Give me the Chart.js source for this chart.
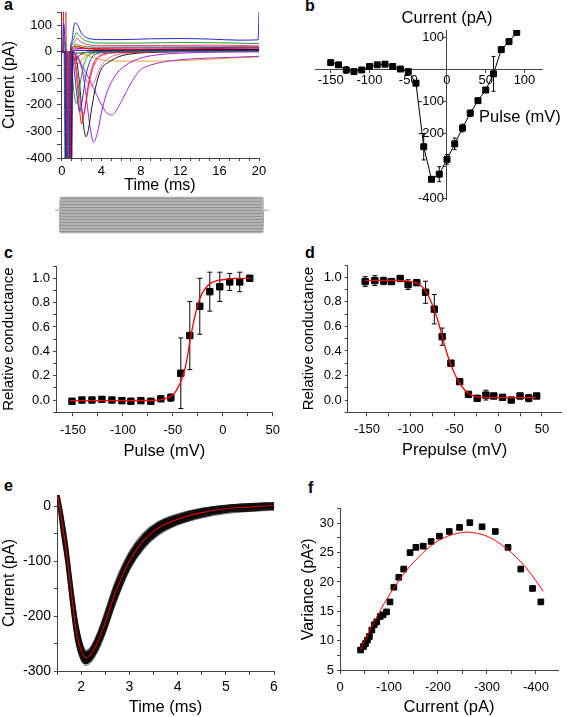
<!DOCTYPE html>
<html>
<head>
<meta charset="utf-8" />
<script src="https://cdn.jsdelivr.net/npm/chart.js"></script>
<style>
    body {
        margin: 0;
        width: 567px;
        height: 717px;
        position: relative;
        overflow: hidden;
        background: white;
        font-family: "Liberation Sans", Arial, sans-serif;
    }
    canvas { position: absolute; }
    .letter {
        position: absolute;
        font-weight: bold;
        font-size: 16px;
        line-height: 16px;
    }
</style>
</head>
<body>
<div class="letter" style="left:4px;top:-3px">a</div>
<div class="letter" style="left:305px;top:-2px">b</div>
<div class="letter" style="left:4px;top:245px">c</div>
<div class="letter" style="left:305px;top:245px">d</div>
<div class="letter" style="left:4px;top:478px">e</div>
<div class="letter" style="left:308px;top:480px">f</div>

<canvas id="chartA" width="280" height="195" style="left:0;top:0"></canvas>
<canvas id="chartStim" width="225" height="48" style="left:50px;top:192px"></canvas>
<canvas id="chartB" width="282" height="215" style="left:285px;top:0"></canvas>
<canvas id="chartC" width="280" height="221" style="left:0;top:240px"></canvas>
<canvas id="chartD" width="267" height="220" style="left:300px;top:240px"></canvas>
<canvas id="chartE" width="280" height="247" style="left:0;top:470px"></canvas>
<canvas id="chartF" width="268" height="247" style="left:299px;top:470px"></canvas>

<script>
// ---- a: current traces, [time (ms), current (pA)]
const aBlueUp = [[-0.1,0],[0.05,0],[0.15,108],[0.3,20],[0.45,-600],[0.7,-600],[0.85,0],[1.0,40],[1.2,95],[1.35,110],[1.6,100],[1.9,75],[2.3,58],[3,48],[4,46],[6,46],[9,49],[12,50],[15,48],[18,44],[19.9,45],[20,150]];
const aGreenUp = [[-0.1,0],[0.1,0],[0.25,40],[0.4,0],[0.55,-600],[0.8,-600],[0.95,0],[1.15,45],[1.45,72],[1.75,62],[2.1,48],[2.8,37],[4,33],[8,33],[12,35],[16,34],[20,31]];
const aPinkUp = [[-0.1,0],[0.3,0],[0.45,-600],[0.7,-600],[0.85,0],[1.15,32],[1.5,50],[1.9,38],[2.6,27],[4,23],[10,24],[16,25],[20,22]];
const aRedSpike = [[-0.1,0],[0.12,0],[0.2,600],[0.3,600],[0.42,0],[0.55,-600],[0.8,-600],[0.95,5],[1.3,22],[1.8,17],[3,12],[8,10],[14,12],[20,14]];
const aBrownUp = [[-0.1,0],[0.6,0],[0.7,-600],[0.85,-600],[1.0,0],[1.3,16],[1.7,19],[2.5,12],[5,8],[12,8],[20,10]];
const aGreen2 = [[-0.1,0],[0.9,0],[1.3,28],[2,22],[4,18],[12,19],[20,20]];
const aNavy = [[-0.1,0],[0.3,0],[0.4,-600],[0.95,-600],[1.05,0],[1.4,6],[3,5],[10,7],[20,9]];
const aMagenta = [[-0.1,0],[0.7,0],[0.8,-600],[0.95,-600],[1.05,0],[1.5,12],[3,14],[10,15],[20,17]];
const aTeal = [[-0.1,0],[0.2,0],[0.35,-600],[0.6,-600],[0.75,0],[1.2,-6],[2,-3],[5,0],[20,1]];
const aDarkRed = [[-0.1,0],[0.4,0],[0.5,-600],[0.7,-600],[0.8,0],[1.3,-30],[1.8,-12],[3,0],[20,3]];
const aOrange = [[-0.1,0],[1.0,0],[1.6,-3],[2.5,-12],[3.5,-25],[4.5,-33],[6,-35],[9,-35],[12,-33],[15,-28],[18,-22],[20,-19]];
const aOlive = [[-0.1,0],[0.5,0],[0.65,-600],[0.85,-600],[0.95,-15],[1.2,-35],[1.6,-45],[2.0,-30],[2.6,-10],[3.5,-2],[6,2],[20,4]];
const aGreenDown = [[-0.1,0],[0.45,0],[0.55,-600],[0.85,-600],[1.0,-70],[1.2,-150],[1.45,-195],[1.7,-155],[2.0,-85],[2.4,-30],[3,-8],[4.5,0],[20,3]];
const aBlueDown = [[-0.1,0],[0.5,0],[0.6,-600],[0.9,-600],[1.05,-25],[1.3,-90],[1.55,-175],[1.8,-226],[2.05,-185],[2.4,-95],[2.9,-30],[3.5,-8],[5,0],[20,5]];
const aRedDown = [[-0.1,0],[0.55,0],[0.65,-600],[0.85,-600],[1.0,-5],[1.3,-40],[1.6,-140],[1.8,-225],[2.0,-272],[2.25,-235],[2.6,-140],[3.1,-55],[3.8,-15],[5,-4],[20,2]];
const aPinkDown = [[-0.1,0],[1.0,0],[1.2,-15],[1.5,-70],[1.8,-170],[2.1,-240],[2.4,-200],[2.8,-110],[3.4,-40],[4.2,-12],[6,-2],[20,3]];
const aPinkSlow = [[-0.1,0],[1.0,0],[1.5,-20],[2.0,-60],[2.5,-110],[2.9,-130],[3.3,-112],[3.8,-65],[4.5,-30],[5.5,-12],[8,-3],[20,2]];
const aBlack = [[-0.1,0],[0.6,0],[0.7,-600],[0.9,-600],[1.05,0],[1.4,-20],[1.7,-90],[2.0,-210],[2.25,-295],[2.45,-320],[2.7,-290],[3.0,-215],[3.5,-120],[4.0,-65],[4.8,-38],[5.8,-18],[7,-8],[10,-1],[20,4]];
const aViolet = [[-0.1,0],[1.0,0],[1.5,-10],[2.0,-60],[2.4,-150],[2.8,-270],[3.2,-340],[3.6,-305],[4.0,-230],[4.5,-160],[5.0,-115],[5.6,-80],[6.5,-50],[7.5,-30],[9,-15],[12,-5],[20,0]];
const aVioletSlow = [[-0.1,0],[1.0,0],[1.5,-20],[2.1,-56],[2.8,-105],[3.5,-160],[4.2,-212],[4.7,-235],[5.1,-238],[5.6,-215],[6.2,-175],[6.9,-125],[7.9,-70],[9,-50],[10.5,-37],[12,-30],[14,-25],[17,-21],[20,-17]];

// ---- a (lower): voltage protocol, mV
const stimLevels = [90,80,70,60,50,40,30,20,10,0,-10,-20,-30,-40,-50,-60,-70,-80,-90,-100,-110,-120,-130,-140,-150];
const stimHold = 0;
const stimTimes = [-0.5, 0, 20, 20.5];

// ---- b: I-V relation
const bPulse = [-150,-140,-130,-120,-110,-100,-90,-80,-70,-60,-50,-40,-30,-20,-10,0,10,20,30,40,50,60,70,80,90];
const bCurrent = [21,14,-2,-7,-2,9,14,16,9,1,-7,-43,-240,-341,-325,-279,-231,-182,-136,-97,-64,-14,61,86,115];
const bError = [0,0,10,0,6,8,0,0,0,0,0,0,41,0,23,15,18,12,10,0,0,54,8,5,10];
const bCurrentTickLabels = [100,-100,-200,-400];

// ---- c: activation
const cPulse = [-151,-141,-131,-121,-111,-101,-92,-82,-72,-62,-52,-42,-33,-23,-13,-3,7,17,27];
const cConductance = [-0.01,0.0,0.0,0.005,0.0,-0.005,-0.01,-0.005,-0.01,0.01,0.02,0.22,0.53,0.77,0.89,0.93,0.97,0.97,1.0];
const cError = [0,0,0,0,0,0,0,0,0,0,0.03,0.29,0.28,0.23,0.16,0.12,0.07,0.08,0];
const cFitX = [-153,-100,-75,-65,-58,-52,-48,-45,-42,-39,-36,-33,-30,-27,-24,-21,-17,-12,-6,2,12,27];
const cFitY = [-0.005,-0.005,-0.004,0.0,0.01,0.03,0.06,0.1,0.15,0.22,0.33,0.48,0.61,0.72,0.81,0.87,0.92,0.96,0.98,0.99,1.0,1.0];

// ---- d: inactivation
const dPrepulse = [-152,-141,-131,-122,-112,-103,-93,-83,-73,-64,-54,-44,-34,-24,-14,-5,5,15,25,35,44];
const dConductance = [0.965,0.973,0.97,0.965,0.99,0.94,0.956,0.878,0.74,0.516,0.3,0.15,0.046,0.014,0.04,0.033,0.022,0.0,0.033,0.016,0.033];
const dError = [0.04,0.04,0.03,0.015,0,0.04,0.02,0.09,0.12,0.07,0,0,0.01,0,0.04,0,0,0,0,0.03,0];
const dFitX = [-152,-120,-105,-97,-91,-84,-76,-68,-61,-54,-46,-38,-31,-20,-5,44];
const dFitY = [0.975,0.975,0.97,0.96,0.945,0.9,0.79,0.625,0.44,0.285,0.16,0.08,0.042,0.022,0.02,0.02];

// ---- e: repeated sweeps (band) and mean
const eTime = [1.52,1.6,1.7,1.8,1.9,2.0,2.1,2.2,2.35,2.5,2.7,3.0,3.3,3.6,4.0,4.5,5.0,5.5,6.0];
const eMean = [18,-28,-86,-160,-228,-262,-276,-270,-246,-212,-160,-100,-62,-40,-24,-12,-5,-2,1];
const eUpper = [25,-12,-68,-140,-205,-248,-266,-260,-234,-198,-146,-88,-52,-31,-17,-6,0,3,5];
const eLower = [12,-45,-105,-180,-245,-276,-286,-280,-258,-226,-175,-113,-74,-50,-32,-19,-11,-8,-5];
const eFringeHi = [27,-8,-62,-132,-198,-243,-262,-255,-228,-190,-138,-82,-47,-28,-14,-4,1,4,6];
const eFringeLo = [8,-52,-112,-188,-250,-280,-290,-285,-264,-233,-182,-118,-79,-54,-35,-22,-14,-10,-8];

// ---- f: non-stationary noise analysis
const fCurrent = [-42,-48,-52,-56,-60,-65,-70,-75,-82,-88,-95,-102,-110,-120,-130,-143,-155,-170,-186,-203,-223,-244,-265,-290,-317,-343,-369,-393,-410];
const fVariance = [8.4,9.0,9.5,10.1,10.7,11.8,12.7,13.2,14.1,14.4,14.9,16.6,19.1,20.8,22.2,25.0,25.9,26.1,26.9,27.8,28.6,29.3,30.1,29.4,28.6,25.9,22.2,18.9,16.6];
const fFitX = [-42,-60,-80,-100,-120,-140,-160,-180,-200,-220,-240,-260,-280,-300,-320,-340,-360,-380,-400,-415];
const fFitY = [8.5,11.6,14.8,17.7,20.2,22.4,24.2,25.8,27.0,27.8,28.3,28.5,28.3,27.8,26.9,25.7,24.2,22.4,20.2,18.4];

const FONT = '"Liberation Sans", Arial, sans-serif';
const AXIS = '#444';

function pairs(list) { return list.map(p => ({x: p[0], y: p[1]})); }
function toPoints(xs, ys) { return xs.map((x, i) => ({x: x, y: ys[i]})); }
function errorBars(xs, ys, errs, cap) {
    const pts = [];
    xs.forEach((x, i) => {
        const e = errs[i];
        if (!e) return;
        pts.push({x: x, y: ys[i] - e}, {x: x, y: ys[i] + e}, {x: x, y: null});
        pts.push({x: x - cap, y: ys[i] + e}, {x: x + cap, y: ys[i] + e}, {x: x, y: null});
        pts.push({x: x - cap, y: ys[i] - e}, {x: x + cap, y: ys[i] - e}, {x: x, y: null});
    });
    return pts;
}
// pin the scale box so the plot area lands where it should
function boxWidth(w) { return s => { s.width = w; s.paddingTop = s.paddingBottom = s.paddingLeft = s.paddingRight = 0; }; }
function boxHeight(h) { return s => { s.height = h; s.paddingTop = s.paddingBottom = s.paddingLeft = s.paddingRight = 0; }; }

function axis(o) {
    return {
        type: 'linear',
        min: o.min, max: o.max,
        reverse: !!o.reverse,
        position: o.position,
        afterFit: o.fit,
        border: {display: true, color: AXIS, width: 1},
        grid: {display: true, drawOnChartArea: false, drawTicks: true, tickLength: o.tick, color: AXIS},
        ticks: {
            stepSize: o.step, includeBounds: false, padding: o.pad, color: '#000',
            autoSkip: false, maxRotation: 0,
            font: {family: FONT, size: o.size || 13},
            callback: o.label
        },
        title: o.title ? {display: true, text: o.title, color: '#000', padding: 0,
                          font: {family: FONT, size: o.titleSize || 16}} : {display: false}
    };
}

function baseOptions(padding, scales) {
    return {
        responsive: false,
        devicePixelRatio: 1,
        animation: false,
        events: [],
        layout: {padding: padding},
        plugins: {legend: {display: false}, tooltip: {enabled: false}, filler: {drawTime: 'beforeDatasetsDraw'}},
        scales: scales
    };
}

function trace(data, color, width) {
    return {data: pairs(data), borderColor: color, borderWidth: width || 1, pointRadius: 0,
            cubicInterpolationMode: 'monotone', fill: false};
}

// ---------- a
new Chart(document.getElementById('chartA'), {
    type: 'line',
    data: {datasets: [
        trace(aBlueUp, '#2626d9'),
        trace(aNavy, '#00007f'),
        trace(aRedSpike, '#ff0000'),
        trace(aGreenUp, '#1e9e1e'),
        trace(aMagenta, '#c000c0'),
        trace(aPinkUp, '#ff3b8d'),
        trace(aTeal, '#208080'),
        trace(aDarkRed, '#8b0000'),
        trace(aBrownUp, '#a0522d'),
        trace(aGreen2, '#33bb33'),
        trace(aBlueDown, '#1f3fd0'),
        trace(aGreenDown, '#22a022'),
        trace(aRedDown, '#ff1a1a'),
        trace(aPinkDown, '#ff3399'),
        trace(aBlack, '#1a1a1a'),
        trace(aViolet, '#a020f0'),
        trace(aVioletSlow, '#9932cc'),
        trace(aPinkSlow, '#ff66b3'),
        trace(aOlive, '#999900'),
        trace(aOrange, '#ff9933')
    ]},
    options: baseOptions({left: 0, top: 12, right: 21, bottom: 0}, {
        x: axis({min: -0.1, max: 20, step: 1, tick: 3, pad: 3, fit: boxHeight(37),
                 label: v => v % 4 === 0 ? v : '', title: 'Time (ms)'}),
        y: axis({min: -400, max: 150, step: 50, tick: 4, pad: 5, fit: boxWidth(61),
                 label: v => v % 100 === 0 ? v : '', title: 'Current (pA)'})
    })
});

// ---------- a: protocol box
const stimSets = stimLevels.map((lvl, i) => ({
    data: [{x: stimTimes[0], y: stimHold}, {x: stimTimes[1], y: stimHold}, {x: stimTimes[1], y: lvl},
           {x: stimTimes[2], y: lvl}, {x: stimTimes[2], y: stimHold}, {x: stimTimes[3], y: stimHold}],
    borderColor: i % 2 ? '#8e8e8e' : '#c6c6c6',
    borderWidth: 0.8, pointRadius: 0, tension: 0,
    fill: false,
    backgroundColor: '#a6a6a6'
}));
stimSets[0].fill = stimLevels.length - 1;
new Chart(document.getElementById('chartStim'), {
    type: 'line',
    data: {datasets: stimSets},
    options: baseOptions({left: 3, top: 3, right: 5, bottom: 5}, {
        x: {type: 'linear', display: false, min: -0.7, max: 20.7},
        y: {type: 'linear', display: false, min: -163, max: 103}
    })
});

// ---------- b
// text placed at data coordinates of the crossing axes, drawn under the data
const dataText = {
    id: 'dataText',
    beforeDatasetsDraw(chart, args, opts) {
        const ctx = chart.ctx;
        (opts.items || []).forEach(it => {
            ctx.save();
            ctx.font = it.font || opts.font;
            ctx.fillStyle = '#000';
            ctx.textAlign = it.align || 'center';
            ctx.textBaseline = 'middle';
            ctx.fillText(it.text, chart.scales.x.getPixelForValue(it.x) + (it.dx || 0),
                         chart.scales.y.getPixelForValue(it.y));
            ctx.restore();
        });
    }
};
const optB = baseOptions({left: 30, top: 30, right: 25, bottom: 16}, {
    x: axis({min: -170.3, max: 122.6, step: 50, tick: 3, pad: 0, position: {y: 0}, fit: boxHeight(0),
             label: v => v}),
    y: axis({min: -402, max: 122, step: 100, tick: 3, pad: 1, position: {x: 0}, fit: boxWidth(0),
             label: v => ''})
});
optB.plugins.dataText = {
    font: '16.5px ' + FONT,
    items: [{text: 'Current (pA)', x: 0, y: 159}, {text: 'Pulse (mV)', x: 94, y: -148}]
        .concat(bCurrentTickLabels.map(v => ({text: String(v), x: 0, y: v, align: 'right', dx: -3,
                                              font: '13px ' + FONT})))
};
new Chart(document.getElementById('chartB'), {
    type: 'line',
    plugins: [dataText],
    data: {datasets: [
        {data: toPoints(bPulse, bCurrent), borderColor: '#000', borderWidth: 1, tension: 0,
         pointStyle: 'rect', pointRadius: 4.2, pointBackgroundColor: '#000', pointBorderColor: '#000'},
        {data: errorBars(bPulse, bCurrent, bError, 2.5), borderColor: '#000', borderWidth: 1, pointRadius: 0, spanGaps: false}
    ]},
    options: optB
});

// ---------- c, d
function boltzPanel(id, xs, ys, errs, fitX, fitY, cap, padding, xOpts, yOpts) {
    new Chart(document.getElementById(id), {
        type: 'line',
        data: {datasets: [
            {data: toPoints(fitX, fitY), borderColor: '#ff0000', borderWidth: 1.3, pointRadius: 0,
             cubicInterpolationMode: 'monotone'},
            {data: toPoints(xs, ys), showLine: false, pointStyle: 'rect', pointRadius: 4.5,
             pointBackgroundColor: '#000', pointBorderColor: '#000'},
            {data: errorBars(xs, ys, errs, cap), borderColor: '#000', borderWidth: 1, pointRadius: 0, spanGaps: false}
        ]},
        options: baseOptions(padding, {x: axis(xOpts), y: axis(yOpts)})
    });
}
const tenths = v => Math.round(v * 10) % 2 === 0 ? v.toFixed(1) : '';

boltzPanel('chartC', cPulse, cConductance, cError, cFitX, cFitY, 2.5,
    {left: 0, top: 26.1, right: 7.3, bottom: 0},
    {min: -167, max: 50, step: 25, tick: 4, pad: 6, fit: boxHeight(48.8),
     label: v => v % 50 === 0 ? v : '', title: 'Pulse (mV)', titleSize: 16.5},
    {min: -0.1, max: 1.1, step: 0.1, tick: 3, pad: 3, fit: boxWidth(56),
     label: tenths, title: 'Relative conductance', titleSize: 15});

boltzPanel('chartD', dPrepulse, dConductance, dError, dFitX, dFitY, 2.8,
    {left: 0, top: 25, right: 1.3, bottom: 0},
    {min: -172, max: 72.4, step: 25, tick: 4, pad: 5, fit: boxHeight(47.7),
     label: v => v % 50 === 0 ? v : '', title: 'Prepulse (mV)', titleSize: 16.5},
    {min: -0.1, max: 1.1, step: 0.1, tick: 3, pad: 3, fit: boxWidth(47.7),
     label: tenths, title: 'Relative conductance', titleSize: 15});

// ---------- e
function sweep(ys, color, width, fill) {
    return {data: toPoints(eTime, ys), borderColor: color, borderWidth: width, pointRadius: 0,
            cubicInterpolationMode: 'monotone', fill: fill || false, backgroundColor: '#000'};
}
new Chart(document.getElementById('chartE'), {
    type: 'line',
    data: {datasets: [
        sweep(eMean, '#e00000', 1.1),
        sweep(eUpper, '#111', 2.5, '+1'),
        sweep(eLower, '#111', 2.5),
        sweep(eFringeHi, '#666', 0.8),
        sweep(eFringeLo, '#666', 0.8)
    ]},
    options: baseOptions({left: 0, top: 25, right: 6, bottom: 0}, {
        x: axis({min: 1.5, max: 6, step: 0.5, tick: 4, pad: 4, size: 14, fit: boxHeight(46),
                 label: v => Number.isInteger(v) ? v : '', title: 'Time (ms)', titleSize: 16.5}),
        y: axis({min: -300, max: 20, step: 50, tick: 3, pad: 3, size: 14, fit: boxWidth(57),
                 label: v => v % 100 === 0 ? v : '', title: 'Current (pA)'})
    })
});

// ---------- f
new Chart(document.getElementById('chartF'), {
    type: 'line',
    data: {datasets: [
        {data: toPoints(fFitX, fFitY), borderColor: '#ff0000', borderWidth: 1, pointRadius: 0,
         cubicInterpolationMode: 'monotone'},
        {data: toPoints(fCurrent, fVariance), showLine: false, pointStyle: 'rect', pointRadius: 4,
         pointBackgroundColor: '#000', pointBorderColor: '#000'}
    ]},
    options: baseOptions({left: 0, top: 38.6, right: 9, bottom: 0}, {
        x: axis({min: -445, max: 0, reverse: true, step: 50, tick: 4, pad: 6, fit: boxHeight(47),
                 label: v => v % 100 === 0 ? v : '', title: 'Current (pA)', titleSize: 16.5}),
        y: axis({min: 5, max: 32.5, step: 2.5, tick: 3, pad: 3, fit: boxWidth(41),
                 label: v => v % 5 === 0 ? v : '', title: 'Variance (pA²)'})
    })
});
</script>
</body>
</html>
